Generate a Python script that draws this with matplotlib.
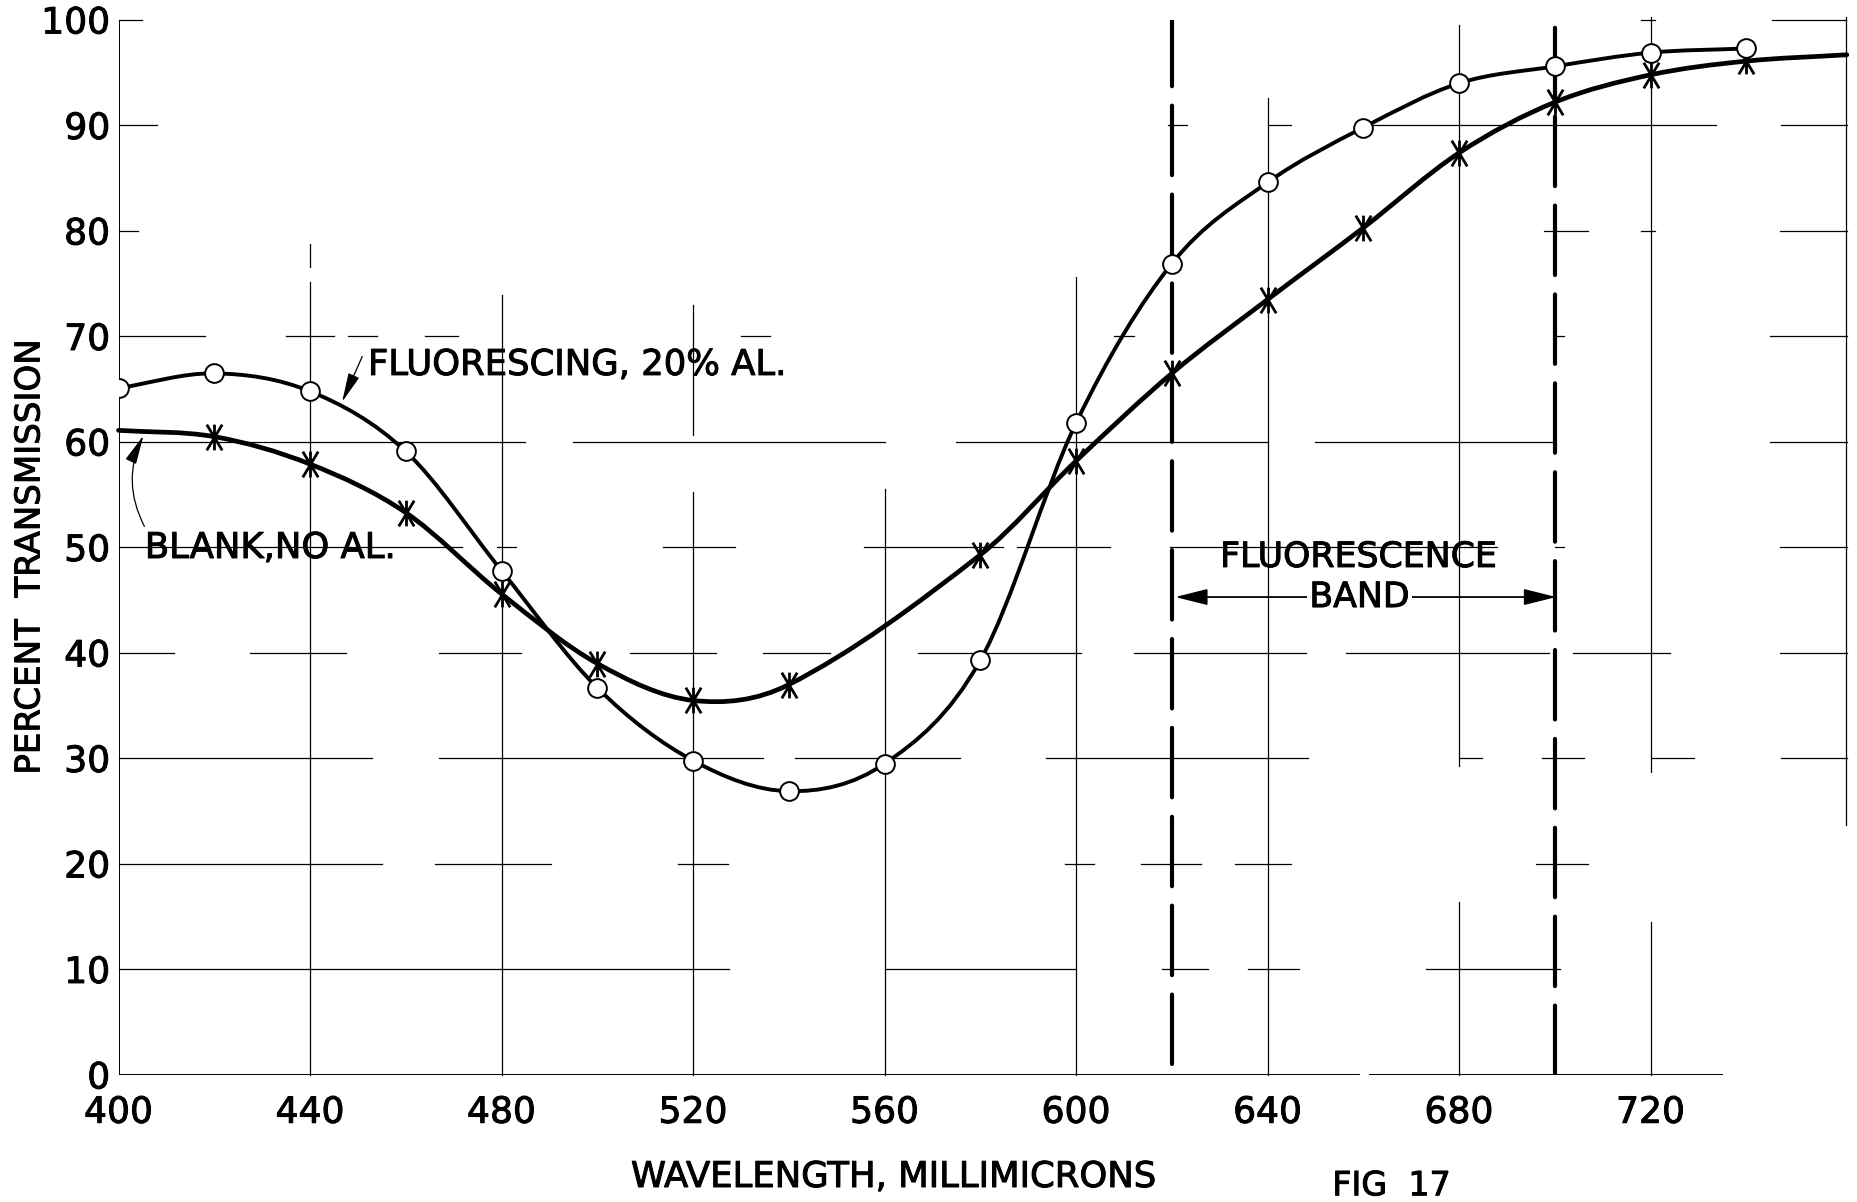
import numpy as np
import matplotlib.pyplot as plt
import matplotlib.patheffects as pe
from matplotlib.path import Path
from matplotlib.patches import PathPatch

plt.rcParams['font.family'] = 'DejaVu Sans'
plt.rcParams['lines.scale_dashes'] = False

# wavelength in millimicrons, percent transmission
wl_fluor = [400, 420, 440, 460, 480, 500, 520, 540, 560, 580, 600, 620, 640, 660, 680, 700, 720, 740]
tr_fluor = [65.1, 66.5, 64.8, 59.1, 47.8, 36.7, 29.8, 26.9, 29.5, 39.3, 61.8, 76.9, 84.6, 89.8, 94.0, 95.6, 96.9, 97.3]

wl_blank = [420, 440, 460, 480, 500, 520, 540, 580, 600, 620, 640, 660, 680, 700, 720, 740]
tr_blank = [60.5, 57.9, 53.3, 45.6, 39.0, 35.5, 37.0, 49.3, 58.2, 66.5, 73.5, 80.3, 87.4, 92.2, 94.8, 96.1]
# blank curve runs on past the measured points at both ends
blank_start = (400, 61.1)
blank_end = (761, 96.7)

band = (620, 700)
x_ticks = [400, 440, 480, 520, 560, 600, 640, 680, 720]
y_ticks = [0, 10, 20, 30, 40, 50, 60, 70, 80, 90, 100]

# broken ruling of the old graph paper: (position, [(start, stop), ...])
v_rules = {
    440: [(0, 75.2), (76.6, 78.8)],
    480: [(0, 73.9)],
    520: [(0, 55.3), (60.7, 73)],
    560: [(0, 55.5)],
    600: [(0, 75.6)],
    640: [(0, 92.6)],
    680: [(0, 16.4), (29.3, 99.5)],
    720: [(0, 14.5), (28.7, 100.3)],
    760.8: [(23.7, 100.3)],
}
h_rules = {
    10: [(400, 527.5), (560, 600), (618, 627.6), (636, 646.5), (673, 701)],
    20: [(400, 455), (466, 490.3), (516.8, 527.3), (597.7, 603.7), (613.6, 626), (633.2, 645), (696, 707)],
    30: [(400, 453), (467, 534.7), (541.2, 575.7), (593.7, 648.5), (680, 684.8), (697.4, 706),
         (720.3, 729), (747.3, 761)],
    40: [(400, 411.5), (427.5, 447.5), (467, 484), (506.8, 524.8), (534.7, 548.7), (567, 601),
         (612, 648), (656.4, 698.8), (703.8, 724), (747, 761)],
    50: [(400, 471.8), (479, 483), (513.7, 528.8), (555.7, 584.7), (587.7, 607), (619.6, 688),
         (700, 702), (747, 761)],
    60: [(400, 485), (495, 560), (575, 640), (650, 700), (745, 761)],
    70: [(400, 418), (435, 445), (448, 454), (464, 471), (530, 536), (608, 612), (700, 702), (745, 761)],
    80: [(400, 404), (697.8, 707), (718, 721), (747, 761)],
    90: [(400, 408), (619.2, 623.2), (640, 645), (659.6, 733.7), (747.3, 761)],
    100: [(400, 405), (718, 721), (745.3, 760.8)],
}

# slightly heavier strokes for the hand lettering
ink = [pe.withStroke(linewidth=0.7, foreground='k')]


def smooth_path(xs, ys):
    # cubic bezier pieces with finite-difference slopes at each point
    xs = np.asarray(xs, float)
    ys = np.asarray(ys, float)
    m = np.empty(len(xs))
    m[1:-1] = (ys[2:] - ys[:-2]) / (xs[2:] - xs[:-2])
    m[0] = (ys[1] - ys[0]) / (xs[1] - xs[0])
    m[-1] = (ys[-1] - ys[-2]) / (xs[-1] - xs[-2])
    verts = [(xs[0], ys[0])]
    codes = [Path.MOVETO]
    for i in range(len(xs) - 1):
        h = xs[i + 1] - xs[i]
        verts += [(xs[i] + h / 3, ys[i] + m[i] * h / 3),
                  (xs[i + 1] - h / 3, ys[i + 1] - m[i + 1] * h / 3),
                  (xs[i + 1], ys[i + 1])]
        codes += [Path.CURVE4] * 3
    return Path(verts, codes)


fig = plt.figure(figsize=(18.58, 12.02), dpi=100)
ax = fig.add_axes([0.0638, 0.1057, 0.9302, 0.8777])
ax.set_xlim(400, 761)
ax.set_ylim(0, 100)
for s in ax.spines.values():
    s.set_visible(False)

# axes and grid
ax.plot([400, 400], [0, 100], color='k', lw=1.4, zorder=1)
ax.plot([400, 659], [0, 0], color='k', lw=1.4, zorder=1)
ax.plot([661.5, 735], [0, 0], color='k', lw=1.4, zorder=1)
for x, spans in v_rules.items():
    for y0, y1 in spans:
        ax.plot([x, x], [y0, y1], color='k', lw=0.9, zorder=1, clip_on=False)
for y, spans in h_rules.items():
    for x0, x1 in spans:
        ax.plot([x0, x1], [y, y], color='k', lw=0.9, zorder=1, clip_on=False)

# fluorescence band limits
ax.plot([band[0], band[0]], [1, 100], color='k', lw=3, ls=(0, (50, 14)),
        dash_capstyle='round', zorder=2)
ax.plot([band[1], band[1]], [0, 100.5], color='k', lw=3, ls=(0, (50, 14)),
        dash_capstyle='round', zorder=2)

# curves
bx = [blank_start[0]] + wl_blank + [blank_end[0]]
by = [blank_start[1]] + tr_blank + [blank_end[1]]
ax.add_patch(PathPatch(smooth_path(bx, by), fill=False, lw=3.4, color='k',
                       capstyle='round', zorder=3, clip_on=False))
ax.add_patch(PathPatch(smooth_path(wl_fluor, tr_fluor), fill=False, lw=2.8, color='k',
                       capstyle='round', zorder=3))

star = Path([(0, -1), (0, 1), (-0.6, -1), (0.6, 1), (-0.6, 1), (0.6, -1)],
            [Path.MOVETO, Path.LINETO, Path.MOVETO, Path.LINETO, Path.MOVETO, Path.LINETO])
ax.plot(wl_blank, tr_blank, ls='none', marker=star, ms=18.5, mew=2.0, mec='k', zorder=4)
ax.plot(wl_fluor, tr_fluor, ls='none', marker='o', ms=13.5, mew=1.4, mec='k', mfc='white', zorder=5)

# ticks
ax.set_xticks(x_ticks)
ax.set_xticklabels([str(v) for v in x_ticks])
ax.set_yticks(y_ticks)
ax.set_yticklabels([str(v) for v in y_ticks])
ax.tick_params(axis='x', length=0, pad=15, labelsize=26)
ax.tick_params(axis='y', length=0, pad=6, labelsize=26)
for lab in ax.get_xticklabels() + ax.get_yticklabels():
    lab.set_path_effects(ink)

# labels on the curves
ax.text(452.1, 67.3, 'FLUORESCING, 20% AL.', fontsize=25.5, ha='left', va='center',
        zorder=6, path_effects=ink)
ax.annotate('', xy=(446.7, 63.8), xytext=(450.9, 68.1),
            arrowprops=dict(arrowstyle='-|>,head_length=0.9,head_width=0.18', lw=0.9,
                            color='k', mutation_scale=20, shrinkA=0, shrinkB=0), zorder=6)
ax.text(405.5, 49.95, 'BLANK,NO AL.', fontsize=25.5, ha='left', va='center',
        zorder=6, path_effects=ink)
ax.annotate('', xy=(405.2, 60.6), xytext=(405.4, 52.0),
            arrowprops=dict(arrowstyle='-|>,head_length=0.9,head_width=0.18', lw=0.9,
                            color='k', mutation_scale=20, shrinkA=0, shrinkB=0,
                            connectionstyle='arc3,rad=-0.25'), zorder=6)

ax.text(659, 49.1, 'FLUORESCENCE', fontsize=25, ha='center', va='center',
        zorder=6, path_effects=ink)
ax.annotate('', xy=(band[0] + 0.7, 45.3), xytext=(band[1] + 0.3, 45.3),
            arrowprops=dict(arrowstyle='<|-|>,head_length=1.0,head_width=0.25', lw=1.3,
                            color='k', mutation_scale=20, shrinkA=0, shrinkB=0), zorder=5)
ax.text(659.2, 45.3, 'BAND', fontsize=25, ha='center', va='center', zorder=6,
        path_effects=ink, bbox=dict(facecolor='white', edgecolor='none', pad=2))

fig.text(0.0161, 0.5366, 'PERCENT  TRANSMISSION', rotation=90, fontsize=24.5,
         ha='center', va='center', path_effects=ink)
fig.text(0.481, 0.0208, 'WAVELENGTH, MILLIMICRONS', fontsize=25.5, ha='center', va='center',
         path_effects=ink)
fig.text(0.749, 0.0135, 'FIG  17', fontsize=24, ha='center', va='center', path_effects=ink)

fig.savefig('out.png', dpi=100, facecolor='white')
